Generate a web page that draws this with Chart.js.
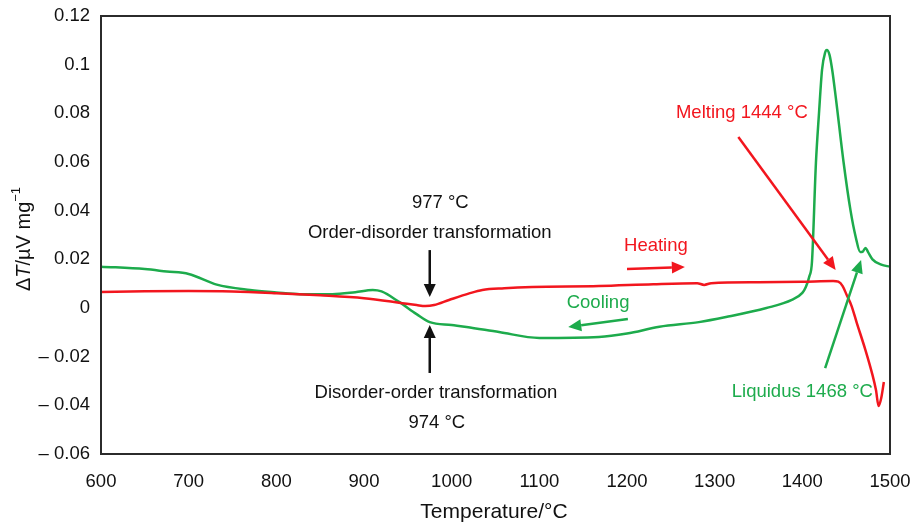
<!DOCTYPE html>
<html lang="en">
<head>
  <meta charset="UTF-8" />
  <title>DTA heating and cooling curves</title>
  <script src="https://cdn.jsdelivr.net/npm/chart.js"></script>
  <style>
    html, body { margin: 0; padding: 0; background: #fff; }
    .wrap { width: 912px; height: 524px; position: relative; }
  </style>
</head>
<body>
  <div class="wrap"><canvas id="dta" width="912" height="524"></canvas></div>

  <script>
    const FONT = "'Liberation Sans', Arial, sans-serif";
    const RED = '#f2161e';
    const GREEN = '#1dab4c';

    // Heating curve (temperature °C, ΔT µV/mg)
    const heatT = [600, 650, 700, 750, 800, 850, 900, 940, 960, 970, 980, 997, 1020, 1035, 1060, 1092, 1168, 1230, 1280, 1288, 1296, 1350, 1400, 1435, 1441, 1446, 1451, 1456, 1462, 1472, 1480, 1484, 1487, 1490, 1493];
    const heatV = [0.0066, 0.0069, 0.0070, 0.0068, 0.0061, 0.0052, 0.0040, 0.0022, 0.0012, 0.0008, 0.0012, 0.0033, 0.0060, 0.0074, 0.0081, 0.0086, 0.0090, 0.0098, 0.0102, 0.0095, 0.0102, 0.0106, 0.0108, 0.0111, 0.0108, 0.0090, 0.0050, 0.0010, -0.0060, -0.0173, -0.0275, -0.0337, -0.0403, -0.0370, -0.0304];

    // Cooling curve
    const coolT = [600, 650, 675, 700, 732, 770, 800, 827, 864, 890, 910, 920, 940, 960, 975, 1000, 1017, 1054, 1100, 1168, 1200, 1237, 1282, 1313, 1359, 1388, 1400, 1404, 1408, 1411, 1415.5, 1419, 1422.5, 1426, 1428, 1431, 1434, 1438, 1447, 1455, 1461, 1466, 1469, 1472, 1475, 1480, 1490, 1500];
    const coolV = [0.0170, 0.0160, 0.0150, 0.0140, 0.0096, 0.0074, 0.0064, 0.0057, 0.0057, 0.0065, 0.0074, 0.0068, 0.0025, -0.0025, -0.0058, -0.0070, -0.0078, -0.0099, -0.0123, -0.0119, -0.0105, -0.0077, -0.0058, -0.0037, 0.0000, 0.0033, 0.0062, 0.0086, 0.0130, 0.0190, 0.0596, 0.0800, 0.0980, 0.1050, 0.1060, 0.1040, 0.0980, 0.0870, 0.0600, 0.0400, 0.0290, 0.0230, 0.0232, 0.0247, 0.0230, 0.0200, 0.0178, 0.0170];

    const xTicks = [600, 700, 800, 900, 1000, 1100, 1200, 1300, 1400, 1500];
    const yMin = -0.06, yMax = 0.12, yStep = 0.02;

    // annotations in data units
    const labels = [
      { text: '977 °C', x: 987, y: 0.0432, color: '#111' },
      { text: 'Order-disorder transformation', x: 975, y: 0.0308, color: '#111' },
      { text: 'Disorder-order transformation', x: 982, y: -0.0349, color: '#111' },
      { text: '974 °C', x: 983, y: -0.0473, color: '#111' },
      { text: 'Heating', x: 1233, y: 0.0255, color: RED },
      { text: 'Cooling', x: 1167, y: 0.0021, color: GREEN },
      { text: 'Melting 1444 °C', x: 1331, y: 0.0801, color: RED },
      { text: 'Liquidus 1468 °C', x: 1400, y: -0.0345, color: GREEN }
    ];
    const arrows = [
      { from: [975, 0.0238], to: [975, 0.0045], color: '#111' },
      { from: [975, -0.0267], to: [975, -0.0070], color: '#111' },
      { from: [1200, 0.0160], to: [1266, 0.0168], color: RED },
      { from: [1201, -0.0045], to: [1133, -0.0078], color: GREEN },
      { from: [1327, 0.0703], to: [1438, 0.0156], color: RED },
      { from: [1426, -0.0247], to: [1467, 0.0197], color: GREEN }
    ];

    const toXY = (ts, vs) => ts.map((t, i) => ({ x: t, y: vs[i] }));

    const decor = {
      id: 'decor',
      afterDraw(chart) {
        const { ctx, chartArea: a, scales: { x, y } } = chart;
        ctx.save();
        // frame
        ctx.strokeStyle = '#2b2b2b';
        ctx.lineWidth = 2;
        ctx.strokeRect(a.left, a.top, a.right - a.left, a.bottom - a.top);

        // arrows
        arrows.forEach(ar => {
          const x1 = x.getPixelForValue(ar.from[0]), y1 = y.getPixelForValue(ar.from[1]);
          const x2 = x.getPixelForValue(ar.to[0]), y2 = y.getPixelForValue(ar.to[1]);
          const ang = Math.atan2(y2 - y1, x2 - x1);
          const hl = 13, hw = 6;
          ctx.strokeStyle = ar.color;
          ctx.fillStyle = ar.color;
          ctx.lineWidth = 2.5;
          ctx.beginPath();
          ctx.moveTo(x1, y1);
          ctx.lineTo(x2 - Math.cos(ang) * hl, y2 - Math.sin(ang) * hl);
          ctx.stroke();
          ctx.beginPath();
          ctx.moveTo(x2, y2);
          ctx.lineTo(x2 - Math.cos(ang) * hl - Math.sin(ang) * hw, y2 - Math.sin(ang) * hl + Math.cos(ang) * hw);
          ctx.lineTo(x2 - Math.cos(ang) * hl + Math.sin(ang) * hw, y2 - Math.sin(ang) * hl - Math.cos(ang) * hw);
          ctx.closePath();
          ctx.fill();
        });

        // text labels
        ctx.font = '18.5px ' + FONT;
        ctx.textAlign = 'center';
        ctx.textBaseline = 'middle';
        labels.forEach(l => {
          ctx.fillStyle = l.color;
          ctx.fillText(l.text, x.getPixelForValue(l.x), y.getPixelForValue(l.y));
        });

        // x axis title
        ctx.fillStyle = '#111';
        ctx.font = '21px ' + FONT;
        ctx.fillText('Temperature/°C', 494, 512);

        // y axis title: ΔT/µV mg⁻¹ with italic T
        ctx.translate(24, 239);
        ctx.rotate(-Math.PI / 2);
        const parts = [
          { s: 'Δ', f: '20px ' + FONT, dy: 0 },
          { s: 'T', f: 'italic 20px ' + FONT, dy: 0 },
          { s: '/µV mg', f: '20px ' + FONT, dy: 0 },
          { s: '−1', f: '13px ' + FONT, dy: -8 }
        ];
        let total = 0;
        parts.forEach(p => { ctx.font = p.f; total += ctx.measureText(p.s).width; });
        let cx = -total / 2;
        ctx.textAlign = 'left';
        parts.forEach(p => {
          ctx.font = p.f;
          ctx.fillText(p.s, cx, p.dy);
          cx += ctx.measureText(p.s).width;
        });
        ctx.restore();
      }
    };

    new Chart(document.getElementById('dta'), {
      type: 'scatter',
      data: {
        datasets: [
          {
            label: 'Heating',
            data: toXY(heatT, heatV),
            showLine: true,
            borderColor: RED,
            borderWidth: 2.5,
            pointRadius: 0,
            cubicInterpolationMode: 'monotone'
          },
          {
            label: 'Cooling',
            data: toXY(coolT, coolV),
            showLine: true,
            borderColor: GREEN,
            borderWidth: 2.5,
            pointRadius: 0,
            cubicInterpolationMode: 'monotone'
          }
        ]
      },
      options: {
        responsive: false,
        animation: false,
        layout: { padding: { top: 16, right: 22, left: 0, bottom: 0 } },
        plugins: { legend: { display: false }, tooltip: { enabled: false } },
        scales: {
          x: {
            type: 'linear',
            min: 600,
            max: 1500,
            afterBuildTicks: s => { s.ticks = xTicks.map(v => ({ value: v })); },
            afterFit: s => { s.height = 70; s.paddingLeft = 0; s.paddingRight = 0; },
            grid: { display: false, drawTicks: false },
            border: { display: false },
            ticks: {
              color: '#111',
              padding: 17,
              font: { family: FONT, size: 18.5 },
              maxRotation: 0,
              callback: v => String(v)
            }
          },
          y: {
            min: yMin,
            max: yMax,
            afterFit: s => { s.width = 101; s.paddingTop = 0; s.paddingBottom = 0; },
            grid: { display: false, drawTicks: false },
            border: { display: false },
            ticks: {
              stepSize: yStep,
              color: '#111',
              padding: 11,
              font: { family: FONT, size: 18.5 },
              callback: v => {
                const r = Math.round(v * 100) / 100;
                return r < 0 ? '– ' + String(-r) : String(r);
              }
            }
          }
        }
      },
      plugins: [decor]
    });
  </script>
</body>
</html>
